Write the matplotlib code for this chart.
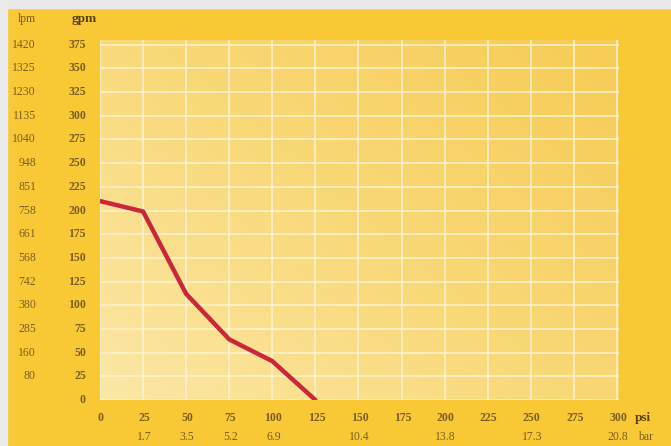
import numpy as np
import matplotlib.pyplot as plt
from matplotlib.colors import LinearSegmentedColormap
from matplotlib.patches import Rectangle

# pump curve values
psi = [0, 25, 50, 75, 100, 125]
gpm = [210, 199, 112, 64, 41, 0]

gpm_ticks = [0, 25, 50, 75, 100, 125, 150, 175, 200, 225, 250, 275, 300, 325, 350, 375]
lpm_labels = ['', '80', '160', '285', '380', '742', '568', '661', '758', '851',
              '948', '1040', '1135', '1230', '1325', '1420']
psi_ticks = [0, 25, 50, 75, 100, 125, 150, 175, 200, 225, 250, 275, 300]
bar_at = [25, 50, 75, 100, 150, 200, 250, 300]
bar_labels = ['1.7', '3.5', '5.2', '6.9', '10.4', '13.8', '17.3', '20.8']

yellow = '#F8C935'
txt = '#7a5e25'

fig = plt.figure(figsize=(6.71, 4.46), dpi=100)
fig.patch.set_facecolor(yellow)
# pale scan margin along top and left
fig.patches.append(Rectangle((0, 1 - 8 / 446), 1, 8 / 446, transform=fig.transFigure,
                             color='#e9e9ea', zorder=0))
fig.patches.append(Rectangle((0, 0), 7 / 671, 1, transform=fig.transFigure,
                             color='#ececec', zorder=0))

ax = fig.add_axes([100 / 671, 1 - 400 / 446, 519 / 671, 360 / 446])
ax.set_xlim(0, 301.2)
ax.set_ylim(0, 380)

# soft gradient panel: cream lower left, deeper yellow upper right
cmap = LinearSegmentedColormap.from_list('panel', ['#FBE7A6', '#F9D877', '#F7CC55'])
xx, yy = np.meshgrid(np.linspace(0, 1, 200), np.linspace(0, 1, 200))
ax.imshow(0.55 * xx + 0.45 * yy, extent=[0, 301.2, 0, 380], origin='lower',
          cmap=cmap, aspect='auto', zorder=0)

for v in psi_ticks:
    ax.axvline(v, color='#FFF3D0', lw=1.1, zorder=1)
for v in gpm_ticks:
    ax.axhline(v, color='#FFF3D0', lw=1.1, zorder=1)

ax.plot(psi, gpm, color='#C9283C', lw=3.2, solid_capstyle='round',
        solid_joinstyle='round', zorder=3)

for s in ax.spines.values():
    s.set_visible(False)
ax.set_xticks([])
ax.set_yticks([])

fnt = dict(family='Liberation Serif', fontsize=8.5, color=txt)

# left scales (gpm and lpm)
for v, l in zip(gpm_ticks, lpm_labels):
    yf = 1 - (400 - v * 360 / 380) / 446
    fig.text(86 / 671, yf, str(v), ha='right', va='center', weight='bold', **fnt)
    if l:
        fig.text(36 / 671, yf, l, ha='right', va='center', **fnt)
fig.text(27 / 671, 1 - 19 / 446, 'lpm', ha='center', va='center', **fnt)
fig.text(84 / 671, 1 - 19 / 446, 'gpm', ha='center', va='center', weight='bold',
         family='Liberation Serif', fontsize=9.5, color='#5a4215')

# bottom scales (psi and bar)
for v in psi_ticks:
    xf = (101 + v * 517 / 300) / 671
    fig.text(xf, 1 - 418 / 446, str(v), ha='center', va='center', weight='bold', **fnt)
for v, l in zip(bar_at, bar_labels):
    xf = (101 + v * 517 / 300) / 671
    fig.text(xf, 1 - 437 / 446, l, ha='center', va='center', **fnt)
fig.text(643 / 671, 1 - 418 / 446, 'psi', ha='center', va='center', weight='bold',
         family='Liberation Serif', fontsize=9.5, color='#5a4215')
fig.text(646 / 671, 1 - 437 / 446, 'bar', ha='center', va='center', **fnt)

fig.savefig('out.png', dpi=100, facecolor=fig.get_facecolor())
